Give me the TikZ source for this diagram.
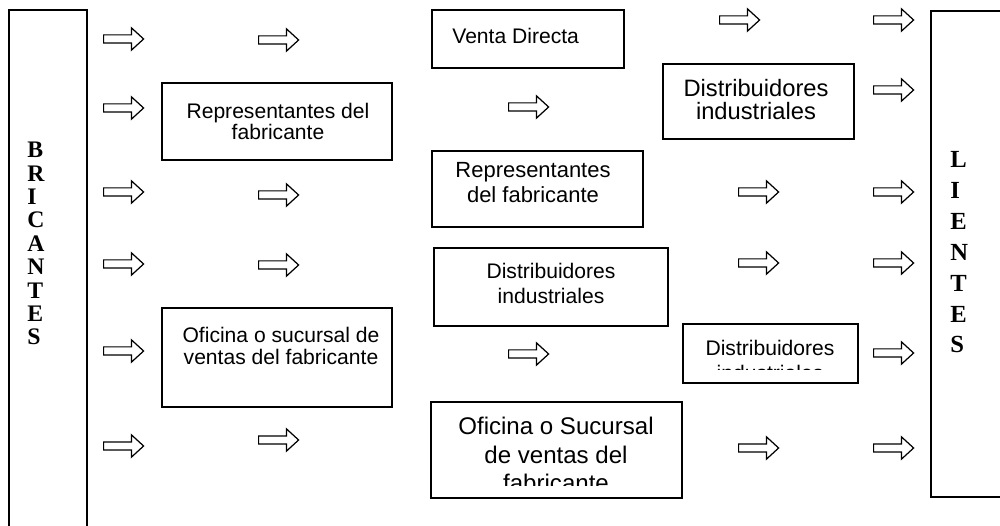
\documentclass[tikz,border=0pt]{standalone}
\usepackage{fontspec}
\setmainfont{Liberation Sans}
\newfontfamily\timesfont{Liberation Serif}
\usetikzlibrary{shapes.arrows}
\tikzset{
  frame/.style={rectangle,draw=black,line width=0.9pt,inner sep=0pt},
  txt/.style={align=center,inner sep=0pt,anchor=north,font=\fontsize{12}{14.2}\selectfont},
  bigtxt/.style={txt,font=\fontsize{13.7}{16.2}\selectfont},
  letters/.style={align=left,inner sep=0pt,anchor=north west,font=\timesfont\bfseries\fontsize{13.5}{13.3}\selectfont},
  blockarrow/.style={single arrow,draw=black,line width=0.7pt,fill=white,minimum height=0.8cm,inner sep=0.07cm,single arrow head extend=0.14cm,single arrow tip angle=85,anchor=tail}
}
\begin{document}
\begin{tikzpicture}[x=0.02cm,y=-0.02cm]
  \useasboundingbox (0,0) rectangle (1000,526);
  \clip (0,0) rectangle (1000,526);
  \node[frame,minimum width=1.56cm,minimum height=10.6cm] (fab) at (48,275) {};
  \node[letters] (fabtxt) at (27,142) {B\\R\\I\\C\\A\\N\\T\\E\\S};
  \node[frame,minimum width=1.6cm,minimum height=9.72cm] (cli) at (971,254) {};
  \node[letters,font=\timesfont\bfseries\fontsize{14}{17.6}\selectfont] (clitxt) at (950,151) {L\\I\\E\\N\\T\\E\\S};

  \node[frame,minimum width=4.6cm,minimum height=1.54cm] (repA) at (277,121.5) {};
  \node[txt,font=\fontsize{12}{12}\selectfont] (repAtxt) at (278,103) {Representantes del\\fabricante};
  \node[frame,minimum width=4.6cm,minimum height=1.98cm] (ofiA) at (277,357.5) {};
  \node[txt,font=\fontsize{12}{12.5}\selectfont] (ofiAtxt) at (281,327) {Oficina o sucursal de\\ventas del fabricante};

  \node[frame,minimum width=3.84cm,minimum height=1.16cm] (venta) at (528,39) {};
  \node[txt,anchor=north west] (ventatxt) at (452,28) {Venta Directa};
  \node[frame,minimum width=4.22cm,minimum height=1.52cm] (repB) at (537.5,189) {};
  \node[txt,font=\fontsize{12.5}{14.2}\selectfont] (repBtxt) at (533,162) {Representantes\\del fabricante};
  \node[frame,minimum width=4.68cm,minimum height=1.56cm] (distA) at (551,287) {};
  \node[txt] (distAtxt) at (551,263) {Distribuidores\\industriales};
  \node[frame,minimum width=5.02cm,minimum height=1.92cm] (ofiB) at (556.5,450) {};
  \begin{scope}
    \clip (431,402) rectangle (682,485);
    \node[bigtxt] (ofiBtxt) at (556,417) {Oficina o Sucursal\\de ventas del\\fabricante};
  \end{scope}

  \node[frame,minimum width=3.82cm,minimum height=1.5cm] (distB) at (758.5,101.5) {};
  \node[txt,font=\fontsize{13.5}{13.2}\selectfont] (distBtxt) at (756,79) {Distribuidores\\industriales};
  \node[frame,minimum width=3.5cm,minimum height=1.18cm] (distC) at (770.5,353.5) {};
  \begin{scope}
    \clip (683,324) rectangle (858,370);
    \node[txt] (distCtxt) at (770,340) {Distribuidores\\industriales};
  \end{scope}

  \node[blockarrow] (a11) at (103,39) {};
  \node[blockarrow] (a12) at (103,108) {};
  \node[blockarrow] (a13) at (103,192) {};
  \node[blockarrow] (a14) at (103,264) {};
  \node[blockarrow] (a15) at (103,351) {};
  \node[blockarrow] (a16) at (103,446) {};
  \node[blockarrow] (a21) at (258,40) {};
  \node[blockarrow] (a22) at (258,195) {};
  \node[blockarrow] (a23) at (258,265) {};
  \node[blockarrow] (a24) at (258,440) {};
  \node[blockarrow] (a31) at (508,107) {};
  \node[blockarrow] (a32) at (508,354) {};
  \node[blockarrow] (a41) at (719,20) {};
  \node[blockarrow] (a42) at (738,192) {};
  \node[blockarrow] (a43) at (738,263) {};
  \node[blockarrow] (a44) at (738,448) {};
  \node[blockarrow] (a51) at (873,20) {};
  \node[blockarrow] (a52) at (873,90) {};
  \node[blockarrow] (a53) at (873,192) {};
  \node[blockarrow] (a54) at (873,263) {};
  \node[blockarrow] (a55) at (873,353) {};
  \node[blockarrow] (a56) at (873,448) {};
\end{tikzpicture}
\end{document}
